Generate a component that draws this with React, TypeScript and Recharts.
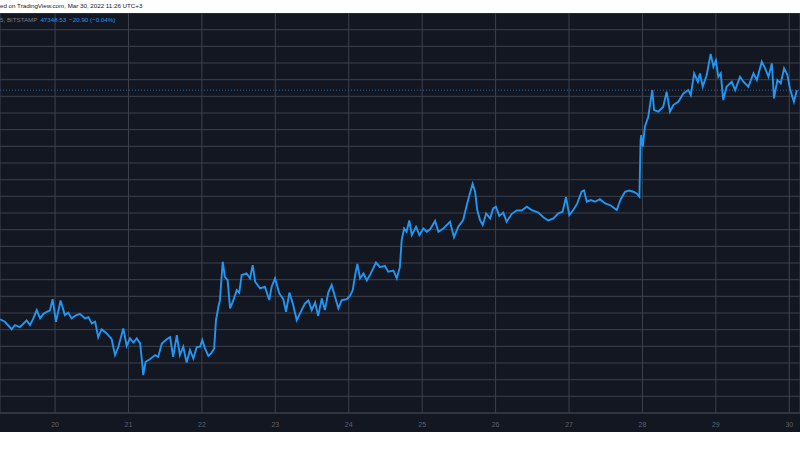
import { LineChart, Line, XAxis, YAxis, CartesianGrid, ReferenceLine } from "recharts";

// hours since Mar 19 00:00 (chart time)
const hours = [
  6.0, 7.6, 9.8, 10.9, 12.5, 14.7, 15.8, 16.9, 18.0, 19.1, 20.2, 21.3, 22.3, 23.2, 24.3, 25.8, 27.2, 28.3, 29.4, 30.5,
  32.1, 33.8, 34.9, 36.0, 37.1, 38.1, 39.2, 40.9, 42.5, 43.6, 44.7, 46.3, 47.4, 48.5, 49.6, 50.7, 51.8, 52.6, 52.8, 53.6,
  55.0, 56.7, 57.7, 58.9, 60.5, 61.6, 62.6, 63.8, 64.8, 65.9, 67.0, 68.1, 69.2, 70.3, 71.4, 72.1, 73.0, 74.1, 75.2, 76.0,
  76.6, 77.4, 77.9, 78.8, 79.5, 80.4, 81.2, 82.3, 83.4, 84.2, 85.0, 86.6, 87.7, 88.6, 89.4, 91.0, 92.6, 94.0, 94.8, 95.9,
  97.3, 98.6, 99.5, 100.6, 101.7, 103.0, 104.6, 105.7, 106.8, 107.9, 109.0, 110.0, 111.2, 112.2, 113.3, 114.4, 115.5, 116.6, 117.7, 119.3,
  120.4, 121.3, 122.0, 122.8, 123.7, 124.8, 125.9, 127.2, 128.9, 130.2, 131.8, 132.9, 134.6, 135.7, 136.7, 137.3, 138.1, 138.9, 139.8, 140.6,
  142.0, 143.1, 144.4, 145.5, 146.6, 148.2, 149.3, 150.9, 153.1, 154.4, 155.8, 157.4, 158.7, 159.6, 160.5, 161.3, 162.0, 162.9, 163.8, 164.9,
  166.2, 167.2, 168.1, 169.2, 170.5, 171.6, 173.3, 174.9, 176.5, 178.2, 179.8, 182.0, 183.6, 185.2, 186.9, 188.5, 189.9, 191.0, 192.1, 193.4,
  194.7, 196.1, 196.9, 197.8, 199.1, 200.5, 202.1, 203.8, 205.4, 207.6, 208.9, 210.3, 211.7, 213.0, 214.1, 215.0, 215.4, 215.6, 216.1, 216.8,
  217.9, 219.2, 219.8, 221.2, 222.8, 223.9, 225.0, 226.1, 227.7, 229.4, 231.0, 231.8, 232.9, 234.1, 234.8, 235.7, 237.0, 238.3, 239.2, 240.0,
  240.8, 241.6, 242.4, 243.5, 245.2, 246.3, 247.9, 249.0, 250.6, 252.3, 253.4, 255.0, 256.1, 257.2, 258.3, 259.0, 260.1, 261.2, 262.3, 263.4,
  264.2, 265.5, 266.5,
];

const prices = [
  41850, 41790, 41610, 41710, 41660, 41820, 41710, 41870, 42070, 41870, 41980, 42030, 42060, 42330, 41790, 42300, 41950, 42010, 41870, 41930,
  41980, 41870, 41900, 41750, 41790, 41420, 41610, 41510, 41370, 40990, 41190, 41630, 41210, 41390, 41290, 41390, 41270, 40710, 40510, 40830,
  40890, 40990, 40950, 41270, 41370, 41420, 40950, 41470, 40990, 41190, 40810, 41110, 40910, 41180, 41190, 41350, 41150, 40970, 41050, 41150,
  41830, 42150, 42310, 43230, 42870, 42790, 42110, 42310, 42550, 42490, 42910, 42950, 42830, 43150, 42750, 42590, 42630, 42310, 42630, 42830,
  42470, 42330, 42030, 42490, 42230, 41830, 42070, 42230, 42300, 42070, 42250, 41930, 42350, 42070, 42490, 42670, 42390, 42110, 42310, 42330,
  42410, 42550, 42870, 43180, 42830, 42950, 42780, 42950, 43210, 43100, 43130, 42990, 43020, 42830, 43100, 43750, 44030, 43950, 44220, 43870,
  44070, 43870, 44030, 43950, 44010, 44210, 43950, 44030, 44190, 43820, 44070, 44230, 44630, 44870, 45100, 44910, 44470, 44230, 44110, 44390,
  44270, 44510, 44550, 44330, 44410, 44190, 44380, 44460, 44460, 44550, 44470, 44410, 44300, 44220, 44270, 44390, 44430, 44780, 44350, 44470,
  44630, 44910, 44940, 44670, 44710, 44670, 44730, 44630, 44590, 44470, 44730, 44910, 44940, 44910, 44870, 44790, 46150, 46270, 45990, 46470,
  46710, 47350, 46870, 46830, 46950, 47310, 46830, 46990, 47070, 47270, 47350, 47230, 47750, 47550, 47750, 47430, 47710, 48220, 47910, 48060,
  47670, 47750, 47110, 47430, 47550, 47350, 47670, 47550, 47430, 47750, 47590, 48030, 47870, 47670, 47990, 47150, 47590, 47510, 47870, 47710,
  47390, 47070, 47348.53,
];

const dayTicks = [24, 48, 72, 96, 120, 144, 168, 192, 216, 240, 264];
const priceTicks = [
  39600, 40000, 40400, 40800, 41200, 41600, 42000, 42400, 42800, 43200, 43600, 44000, 44400,
  44800, 45200, 45600, 46000, 46400, 46800, 47200, 47600, 48000, 48400, 48800, 49200,
];
const lastPrice = 47348.53;

const data = hours.map((h, i) => ({ h, price: prices[i] }));

const font = "'Liberation Sans', Arial, sans-serif";

export default function App() {
  return (
    <div style={{ position: "absolute", left: 0, top: 0, width: 800, height: 450, background: "#ffffff", overflow: "hidden", fontFamily: font }}>
      <div style={{ position: "absolute", left: 0, top: 2, fontSize: 6.2, color: "#131722", whiteSpace: "nowrap" }}>
        ed on TradingView.com, Mar 30, 2022 11:26 UTC+3
      </div>
      <div style={{ position: "absolute", left: 0, top: 13, width: 800, height: 419, background: "#131722" }}>
        <LineChart width={800} height={419} data={data} margin={{ top: 0, right: 0, bottom: 0, left: 0 }}>
          <CartesianGrid stroke="#3d414c" strokeWidth={1} />
          <XAxis
            type="number"
            dataKey="h"
            domain={[6, 267.5]}
            ticks={dayTicks}
            interval={0}
            tickFormatter={(v: number) => String(19 + v / 24)}
            height={19}
            tickLine={false}
            tickSize={7}
            axisLine={{ stroke: "#3d414c" }}
            tick={{ fill: "#5d606b", fontSize: 7, fontFamily: font }}
            allowDataOverflow
          />
          <YAxis hide type="number" domain={[39600, 49200]} ticks={priceTicks} interval={0} allowDataOverflow />
          <ReferenceLine y={lastPrice} stroke="#2264b0" strokeDasharray="1 2" />
          <Line
            type="linear"
            dataKey="price"
            stroke="#2196f3"
            strokeWidth={1.9}
            dot={false}
            isAnimationActive={false}
          />
        </LineChart>
        <div style={{ position: "absolute", left: 0, top: 3, fontSize: 6.2, whiteSpace: "nowrap" }}>
          <span style={{ color: "#787b86" }}>5, BITSTAMP</span>
          <span style={{ color: "#2196f3", marginLeft: 3 }}>47348.53</span>
          <span style={{ color: "#2196f3", marginLeft: 3 }}>−20.90 (−0.04%)</span>
        </div>
      </div>
    </div>
  );
}
